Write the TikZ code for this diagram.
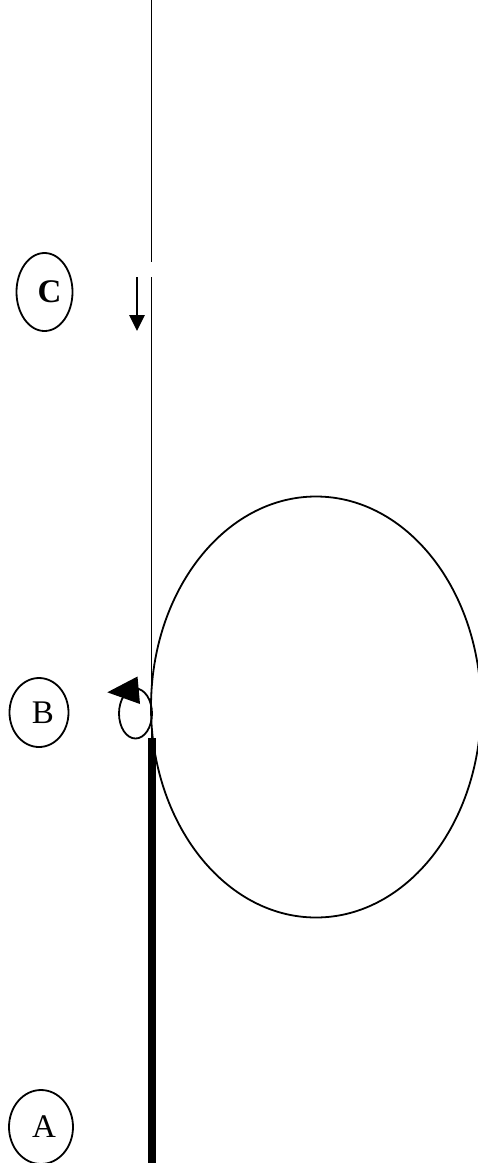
\documentclass[tikz,border=0pt]{standalone}
\usepackage{fontspec}
\setmainfont{Liberation Serif}
\usetikzlibrary{shapes.geometric,arrows.meta,positioning}

\begin{document}
\begin{tikzpicture}[x=1pt, y=-1pt,
  label/.style={ellipse, draw, line width=1.8pt, inner sep=0pt, font=\fontsize{33}{40}\selectfont},
  rope/.style={line width=1.7pt}]
\useasboundingbox (0,0) rectangle (477,1163);
\node[label, minimum width=56, minimum height=78] (lc) at (44.5,292) {\hspace{10pt}\textbf{C}};
\node[label, minimum width=59, minimum height=69] (lb) at (39,712.5) {\hspace{8pt}B};
\node[label, minimum width=64, minimum height=74] (la) at (41,1127) {\hspace{6pt}A};
\node[ellipse, draw, line width=1.8pt, minimum width=330, minimum height=421] (loop) at (316,707) {};
\node[ellipse, draw, line width=1.8pt, minimum width=33, minimum height=50] (knot) at (135.5,713.5) {};
\coordinate (top) at (151.5,0);
\coordinate (gapa) at (151.5,262);
\coordinate (gapb) at (151.5,277);
\coordinate (bend) at (151.5,738);
\coordinate (thick) at (151.5,738);
\coordinate (bottom) at (151.5,1163);
\coordinate (pulla) at (137,277);
\coordinate (pullb) at (137,331);
\draw[rope] (top) -- (gapa);
\draw[rope] (gapb) -- (bend);
\draw[line width=8pt] (thick) -- (bottom);
\draw[line width=2.7pt, -{Triangle[length=16pt,width=15pt]}] (pulla) -- (pullb);
\fill (107.3,692.3) -- (137.5,676.5) -- (140,704) -- cycle;
\end{tikzpicture}
\end{document}
